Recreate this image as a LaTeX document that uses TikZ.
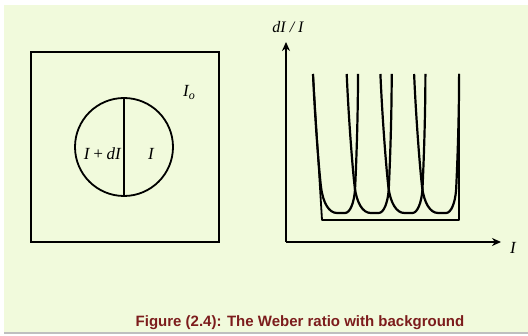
\documentclass[tikz,border=0pt]{standalone}
\usepackage{fontspec}
\setmainfont{Liberation Serif}
\newfontfamily\captionfont{Liberation Sans}
\usetikzlibrary{arrows.meta}
\definecolor{paper}{RGB}{241,250,220}
\definecolor{capred}{RGB}{124,28,28}
\tikzset{
  thick line/.style={line width=1.8pt},
  curve line/.style={line width=2.2pt,line join=round},
  axis/.style={line width=1.8pt,-{Stealth[length=9pt,width=8pt]}},
  lab/.style={font=\fontsize{17}{20}\selectfont\itshape,inner sep=1pt}
}

\begin{document}
\begin{tikzpicture}[x=1pt,y=-1pt]
\useasboundingbox (0,0) rectangle (528,336);
\fill[white] (0,0) rectangle (528,336);
\fill[paper] (4,5) rectangle (528,332);
\fill[black!25] (4,332) rectangle (528,334);
\node[draw,thick line,minimum width=188pt,minimum height=190pt,inner sep=0pt] (field) at (125,147) {};
\node[draw,thick line,circle,minimum size=98pt,inner sep=0pt] (disk) at (124,147) {};
\draw[thick line] (disk.north) -- (disk.south);
\node[lab,anchor=east] (left) at (122,154) {I\,+\,dI};
\node[lab] (right) at (151,154) {I};
\node[lab] (back) at (189,92) {I\raisebox{-3pt}{\fontsize{12}{12}\selectfont o}};
\coordinate (origin) at (286,242);
\coordinate (ytip) at (286,42);
\coordinate (xtip) at (501,242);
\draw[axis] (origin) -- (ytip);
\draw[axis] (origin) -- (xtip);
\node[lab,font=\fontsize{16}{20}\selectfont\itshape] (ylabel) at (288,27) {dI / I};
\node[lab] (xlabel) at (513,248) {I};
\draw[thick line,line join=round] (313,74) -- (322,220) -- (459,220) -- (459,74);
\foreach \dx in {0,33.7,67.4,101.1}
  \draw[curve line,xshift=\dx pt] (313,74) .. controls (315,120) and (319,170) .. (321,187) .. controls (323,203) and (329,213) .. (337,213) -- (345,213) .. controls (350,213) and (354,203) .. (355,190) .. controls (356,170) and (358,120) .. (358,74);
\node[font=\captionfont\bfseries\fontsize{15}{18}\selectfont,text=capred] (caption) at (300,323) {Figure (2.4): The Weber ratio with background};
\end{tikzpicture}
\end{document}
